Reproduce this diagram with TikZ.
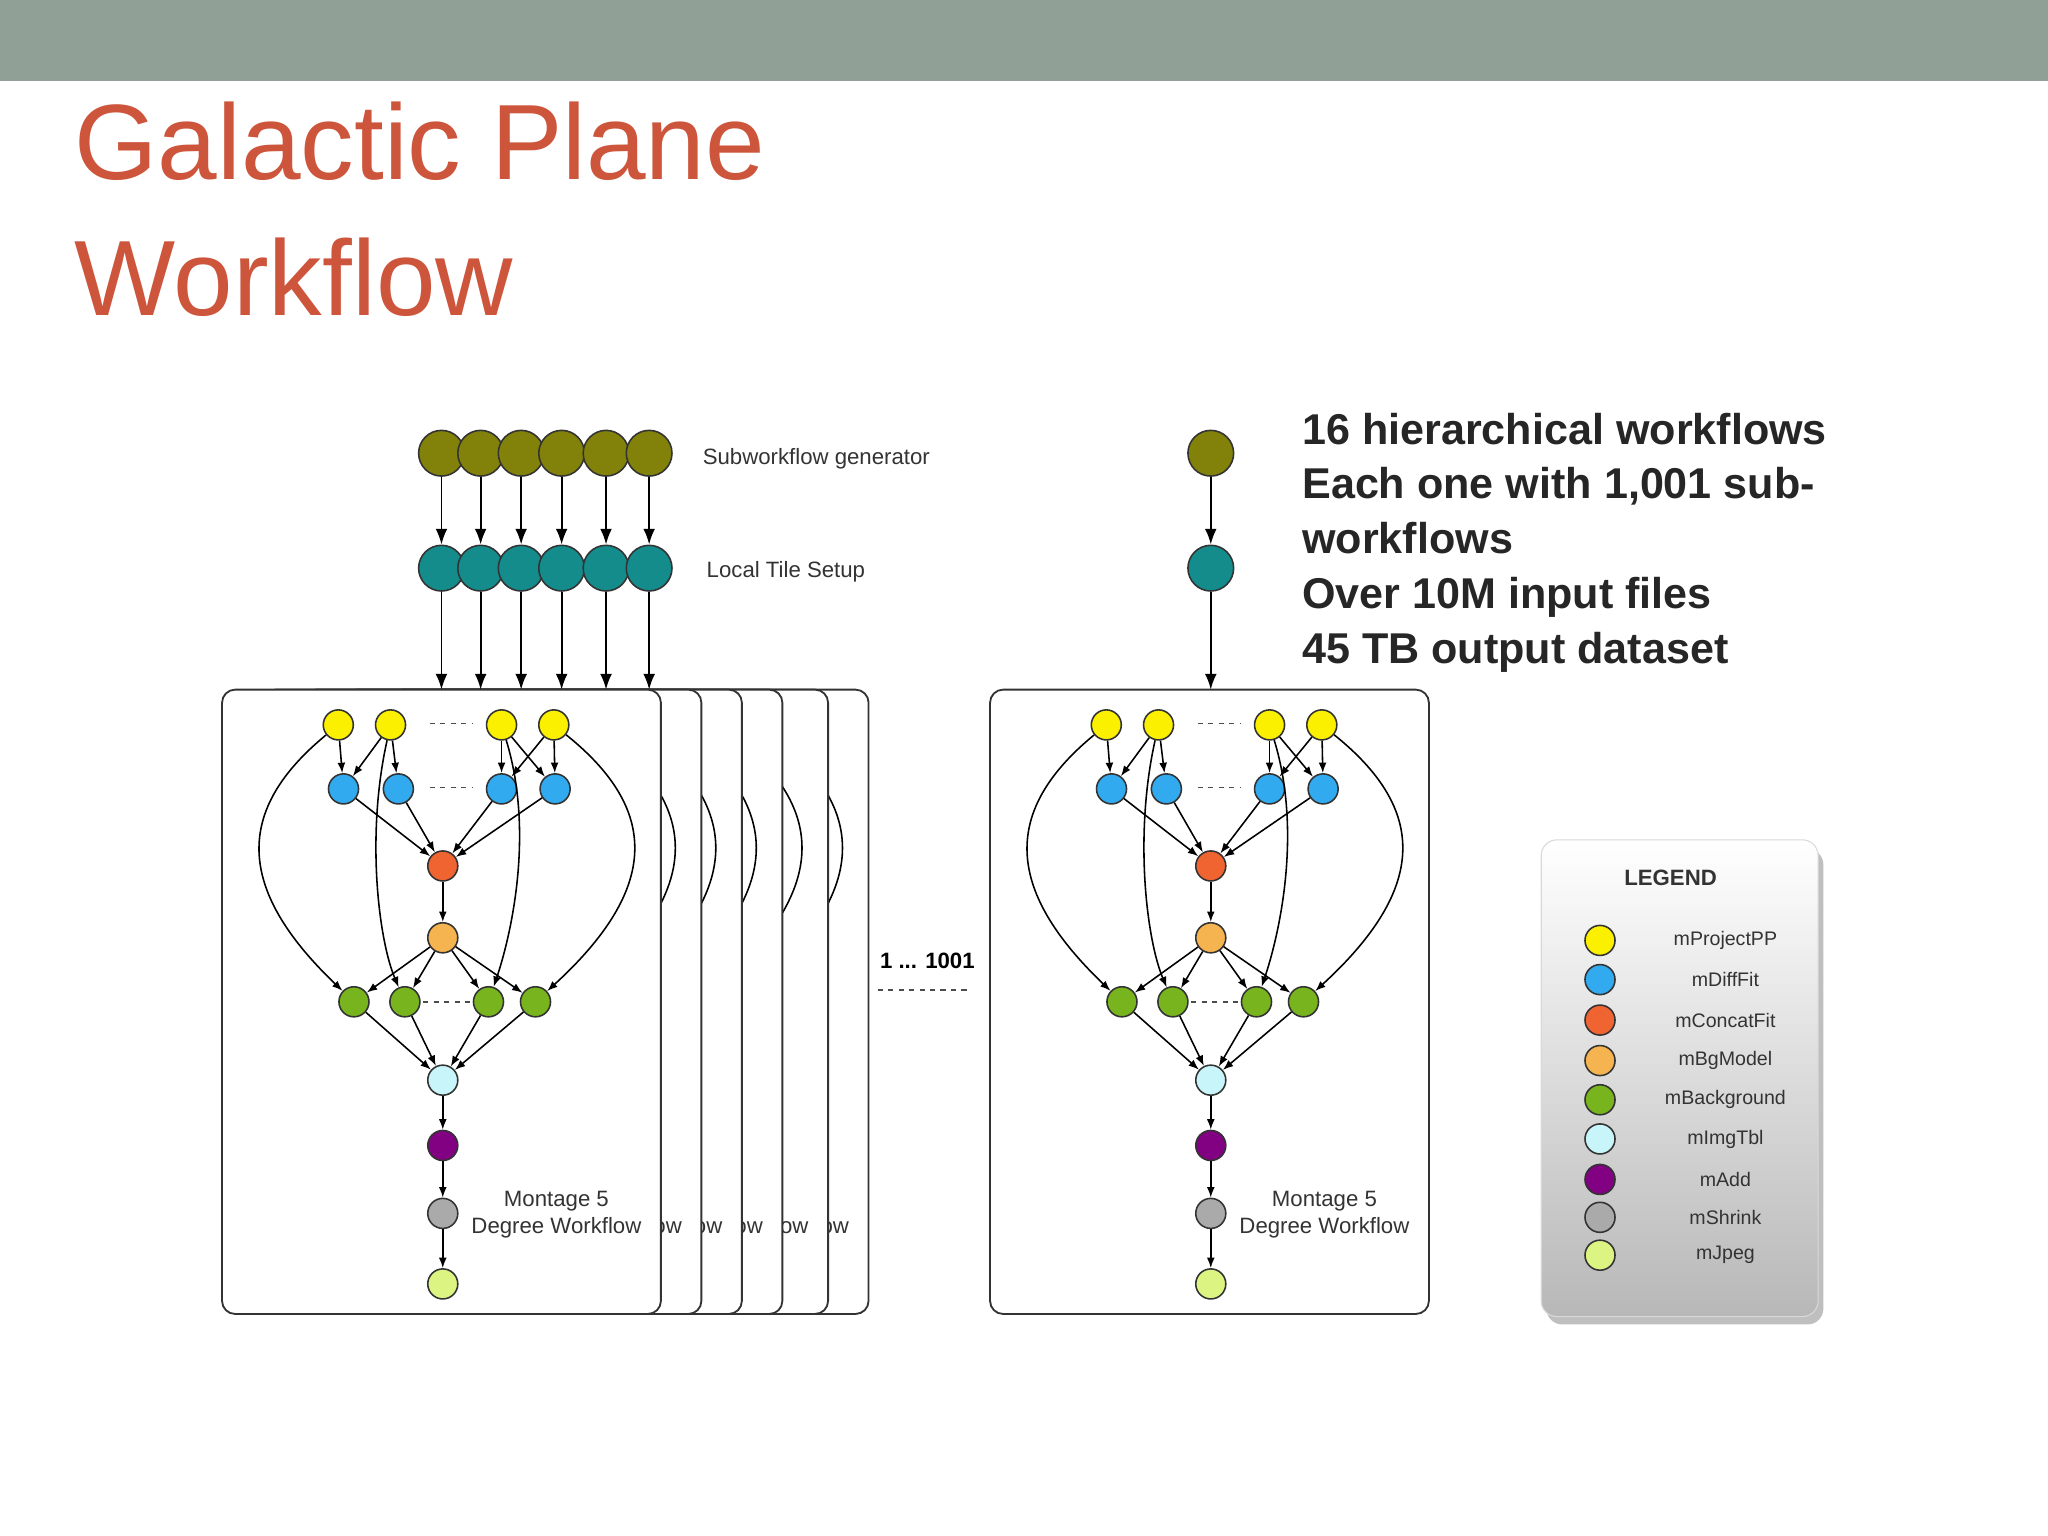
\documentclass[tikz,border=0pt]{standalone}
\usepackage{fontspec}
\setmainfont{Liberation Sans}
\usetikzlibrary{arrows.meta}
\definecolor{barc}{RGB}{145,160,150}
\definecolor{titlec}{RGB}{205,85,60}
\definecolor{cgen}{RGB}{130,130,10}
\definecolor{cteal}{RGB}{20,140,140}
\definecolor{cyel}{RGB}{250,240,0}
\definecolor{cblue}{RGB}{50,170,240}
\definecolor{cred}{RGB}{240,100,50}
\definecolor{cbg}{RGB}{245,180,80}
\definecolor{cgreen}{RGB}{120,180,30}
\definecolor{ccyan}{RGB}{200,245,250}
\definecolor{cpurp}{RGB}{130,0,130}
\definecolor{cgray}{RGB}{170,170,170}
\definecolor{cjpeg}{RGB}{220,245,130}
\tikzset{
 job/.style={circle,draw=black!80,line width=0.6pt,minimum size=23*0.5pt,inner sep=0pt,fill=#1},
 big/.style={circle,draw=black!80,line width=0.6pt,minimum size=35*0.5pt,inner sep=0pt,fill=#1},
 arr/.style={-{Latex[length=4pt,width=3pt]},line width=0.6pt},
 barr/.style={-{Latex[length=6pt,width=4.5pt]},line width=0.7pt},
 lab/.style={font=\fontsize{8.5}{10}\selectfont,text=black!80},
 wbox/.style={draw=black!80,line width=0.7pt,fill=white,rounded corners=5pt},
 dots/.style={dashed,dash pattern=on 2pt off 2pt,line width=0.6pt,black!70}
}
\newcommand\wf[2]{%
\begin{scope}[shift={(#2,0)}]
\draw[wbox] (170,528) rectangle (506,1006);
\node[job=cyel] (#1y1) at (259,555) {};
\node[job=cyel] (#1y2) at (299,555) {};
\node[job=cyel] (#1y3) at (384,555) {};
\node[job=cyel] (#1y4) at (424,555) {};
\node[job=cblue] (#1b1) at (263,604) {};
\node[job=cblue] (#1b2) at (305,604) {};
\node[job=cblue] (#1b3) at (384,604) {};
\node[job=cblue] (#1b4) at (425,604) {};
\node[job=cred] (#1o) at (339,663) {};
\node[job=cbg] (#1m) at (339,718) {};
\node[job=cgreen] (#1g1) at (271,767) {};
\node[job=cgreen] (#1g2) at (310,767) {};
\node[job=cgreen] (#1g3) at (374,767) {};
\node[job=cgreen] (#1g4) at (410,767) {};
\node[job=ccyan] (#1c) at (339,827) {};
\node[job=cpurp] (#1p) at (339,877) {};
\node[job=cgray] (#1s) at (339,929) {};
\node[job=cjpeg] (#1j) at (339,983) {};
\draw[dots] (329,554) -- (362,554);
\draw[dots] (329,603) -- (362,603);
\draw[dots] (324,767) -- (360,767);
\draw[arr] (#1y1) -- (#1b1);
\draw[arr] (#1y2) -- (#1b1);
\draw[arr] (#1y2) -- (#1b2);
\draw[arr] (#1y3) -- (#1b3);
\draw[arr] (#1y3) -- (#1b4);
\draw[arr] (#1y4) -- (#1b3);
\draw[arr] (#1y4) -- (#1b4);
\foreach \b in {b1,b2,b3,b4} \draw[arr] (#1\b) -- (#1o);
\draw[arr] (#1o) -- (#1m);
\foreach \g in {g1,g2,g3,g4} {\draw[arr] (#1m) -- (#1\g); \draw[arr] (#1\g) -- (#1c);}
\draw[arr] (#1c) -- (#1p);
\draw[arr] (#1p) -- (#1s);
\draw[arr] (#1s) -- (#1j);
\draw[arr] (#1y1) .. controls (180,620) and (180,680) .. (#1g1);
\draw[arr] (#1y2) .. controls (280,640) and (290,720) .. (#1g2);
\draw[arr] (#1y3) .. controls (410,640) and (390,720) .. (#1g3);
\draw[arr] (#1y4) .. controls (505,620) and (505,680) .. (#1g4);
\node[lab,align=center] (#1t) at (426,930) {Montage 5\\Degree Workflow};
\end{scope}}
\begin{document}
\begin{tikzpicture}[x=0.5pt,y=-0.5pt]
\useasboundingbox (0,0) rectangle (1568,1176);
\fill[barc] (0,0) rectangle (1568,62);
\node[anchor=west,text=titlec,font=\fontsize{41}{50}\selectfont] (ti1) at (50,108) {Galactic Plane};
\node[anchor=west,text=titlec,font=\fontsize{41}{50}\selectfont] (ti2) at (50,212) {Workflow};
\wf{e}{159}
\wf{d}{128}
\wf{c}{93}
\wf{b}{62}
\wf{a}{31}
\wf{L}{0}
\wf{R}{588}
\foreach \i/\x in {1/338,2/368,3/399,4/430,5/464,6/497} {
 \node[big=cgen] (gen\i) at (\x,347) {};
 \node[big=cteal] (tl\i) at (\x,435) {};
 \coordinate (in\i) at (\x,528);
 \draw[barr] (gen\i) -- (tl\i);
 \draw[barr] (tl\i) -- (in\i);
}
\node[big=cgen] (genR) at (927,347) {};
\node[big=cteal] (tlR) at (927,435) {};
\coordinate (inR) at (927,528);
\draw[barr] (genR) -- (tlR);
\draw[barr] (tlR) -- (inR);
\node[lab,anchor=west] (sg) at (531,351) {Subworkflow generator};
\node[lab,anchor=west] (lts) at (534,438) {Local Tile Setup};
\node[font=\bfseries\fontsize{8.5}{10}\selectfont] (n1001) at (710,736) {1 ... 1001};
\draw[dots,line width=0.8pt] (672,758) -- (740,758);
\foreach \i/\t in {0/{16 hierarchical workflows},1/{Each one with 1,001 sub-},2/{workflows},3/{Over 10M input files},4/{45 TB output dataset}}
 \node[anchor=base west,font=\bfseries\fontsize{16.5}{20}\selectfont,text=black!85] (rt\i) at (990,340+42*\i) {\t};
\fill[black!25,rounded corners=6pt] (1184,650) rectangle (1396,1014);
\shade[top color=white,bottom color=black!28,rounded corners=6pt,draw=black!15] (1180,643) rectangle (1392,1008);
\node[font=\bfseries\fontsize{8.5}{10}\selectfont,text=black!80] (leg) at (1279,672) {LEGEND};
\foreach \i/\c/\t/\y in {1/cyel/mProjectPP/720,2/cblue/mDiffFit/750,3/cred/mConcatFit/781,4/cbg/mBgModel/812,5/cgreen/mBackground/842,6/ccyan/mImgTbl/872,7/cpurp/mAdd/903,8/cgray/mShrink/932,9/cjpeg/mJpeg/961} {
 \node[job=\c] (lc\i) at (1225,\y) {};
 \node[font=\fontsize{7.5}{9}\selectfont,text=black!80] (lt\i) at (1321,\y) {\t};
}
\end{tikzpicture}
\end{document}
